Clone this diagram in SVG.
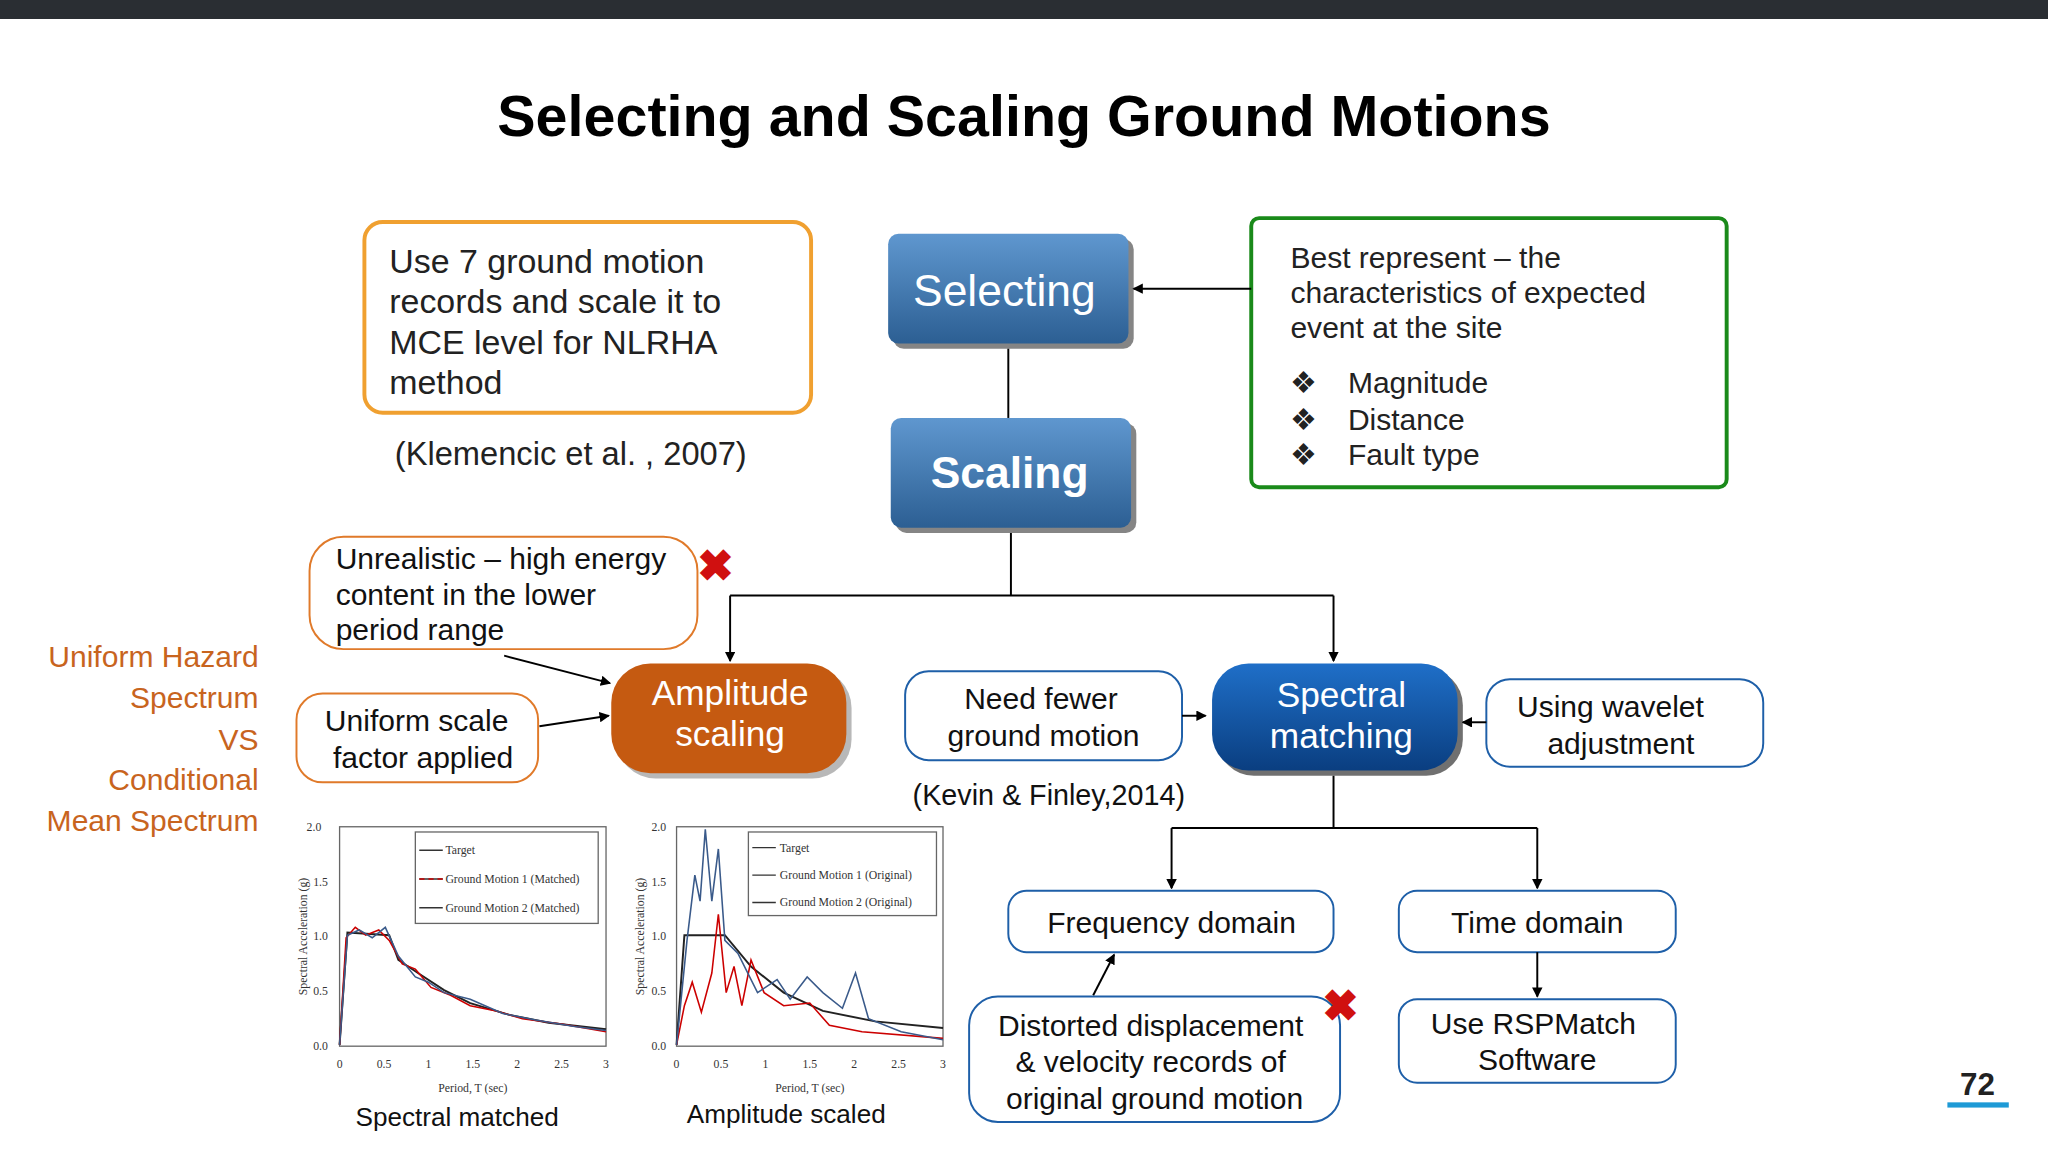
<svg xmlns="http://www.w3.org/2000/svg" width="2048" height="1152" viewBox="0 0 2048 1152">
<style>
.t{font-family:"Liberation Sans",Arial,sans-serif;}
.b{fill:#fff;stroke:#1e5fa8;stroke-width:1.5}
.o{fill:#fff;stroke:#e07a2a;stroke-width:1.5}
.c{stroke:#000;stroke-width:1.5;fill:none}
.ax{font-family:"Liberation Serif",serif;font-size:9px;fill:#333}
</style>
<defs>
<marker id="a" markerWidth="8" markerHeight="8" refX="7" refY="4" orient="auto" markerUnits="userSpaceOnUse"><path d="M0,0 L8,4 L0,8 z" fill="#000"/></marker>
<linearGradient id="gb" x1="0" y1="0" x2="0" y2="1"><stop offset="0" stop-color="#5f97cf"/><stop offset="1" stop-color="#2c5f93"/></linearGradient>
<linearGradient id="gd" x1="0" y1="0" x2="0" y2="1"><stop offset="0" stop-color="#1f6fc8"/><stop offset="1" stop-color="#0a3e80"/></linearGradient>
</defs>
<rect width="2048" height="1152" fill="#fff"/>
<rect width="2048" height="19" fill="#2a2e33"/>
<g transform="scale(1.3061)">
<text class="t" x="784" y="104" text-anchor="middle" font-size="44" font-weight="bold">Selecting and Scaling Ground Motions</text>
<g id="n_use"><rect x="279" y="170" width="342" height="146" rx="14" fill="#fff" stroke="#f0a030" stroke-width="3"/>
<text class="t" font-size="26" fill="#222"><tspan x="298" y="209">Use 7 ground motion</tspan><tspan x="298" y="240">records and scale it to</tspan><tspan x="298" y="271">MCE level for NLRHA</tspan><tspan x="298" y="302">method</tspan></text></g>
<text class="t" x="437" y="356" text-anchor="middle" font-size="25" fill="#222">(Klemencic et al. , 2007)</text>
<g id="n_sel"><rect x="684" y="183" width="184" height="84" rx="8" fill="#333" opacity="0.6"/><rect x="680" y="179" width="184" height="84" rx="8" fill="url(#gb)"/>
<text class="t" x="769" y="234" text-anchor="middle" font-size="34" fill="#fff">Selecting</text></g>
<g id="n_sca"><rect x="686" y="324" width="184" height="84" rx="8" fill="#333" opacity="0.6"/><rect x="682" y="320" width="184" height="84" rx="8" fill="url(#gb)"/>
<text class="t" x="773" y="374" text-anchor="middle" font-size="34" font-weight="bold" fill="#fff">Scaling</text></g>
<g id="n_best"><rect x="958" y="167" width="364" height="206" rx="6" fill="#fff" stroke="#1a8a1a" stroke-width="3"/>
<text class="t" font-size="23" fill="#222"><tspan x="988" y="205">Best represent – the</tspan><tspan x="988" y="232">characteristics of expected</tspan><tspan x="988" y="259">event at the site</tspan>
<tspan x="988" y="301">❖</tspan><tspan x="1032" y="301">Magnitude</tspan><tspan x="988" y="329">❖</tspan><tspan x="1032" y="329">Distance</tspan><tspan x="988" y="356">❖</tspan><tspan x="1032" y="356">Fault type</tspan></text></g>
<g id="n_unr"><rect x="237" y="411" width="297" height="86" rx="26" class="o"/>
<text class="t" font-size="23" fill="#111"><tspan x="257" y="436">Unrealistic – high energy</tspan><tspan x="257" y="463">content in the lower</tspan><tspan x="257" y="490">period range</tspan></text>
<text class="t" x="548" y="445" text-anchor="middle" font-size="34" font-weight="bold" fill="#d01010">✖</text></g>
<text class="t" font-size="23" fill="#c8641e" text-anchor="end"><tspan x="198" y="511">Uniform Hazard</tspan><tspan x="198" y="542">Spectrum</tspan><tspan x="198" y="574">VS</tspan><tspan x="198" y="605">Conditional</tspan><tspan x="198" y="636">Mean Spectrum</tspan></text>
<g id="n_uni"><rect x="227" y="531" width="185" height="68" rx="20" class="o"/>
<text class="t" font-size="23" fill="#111" text-anchor="middle"><tspan x="319" y="560">Uniform scale</tspan><tspan x="324" y="588">factor applied</tspan></text></g>
<g id="n_amp"><rect x="472" y="512" width="180" height="84" rx="30" fill="#888" opacity="0.6"/><rect x="468" y="508" width="180" height="84" rx="30" fill="#c55a11"/>
<text class="t" font-size="27" fill="#fff" text-anchor="middle"><tspan x="559" y="540">Amplitude</tspan><tspan x="559" y="571">scaling</tspan></text></g>
<g id="n_need"><rect x="693" y="514" width="212" height="68" rx="18" class="b"/>
<text class="t" font-size="23" fill="#111" text-anchor="middle"><tspan x="797" y="543">Need fewer</tspan><tspan x="799" y="571">ground motion</tspan></text></g>
<text class="t" x="803" y="616" text-anchor="middle" font-size="22" fill="#111">(Kevin &amp; Finley,2014)</text>
<g id="n_spec"><rect x="932" y="512" width="188" height="82" rx="28" fill="#333" opacity="0.7"/><rect x="928" y="508" width="188" height="82" rx="28" fill="url(#gd)"/>
<text class="t" font-size="27" fill="#fff" text-anchor="middle"><tspan x="1027" y="541">Spectral</tspan><tspan x="1027" y="573">matching</tspan></text></g>
<g id="n_wav"><rect x="1138" y="520" width="212" height="67" rx="18" class="b"/>
<text class="t" font-size="23" fill="#111" text-anchor="middle"><tspan x="1233" y="549">Using wavelet</tspan><tspan x="1241" y="577">adjustment</tspan></text></g>
<g id="n_freq"><rect x="772" y="682" width="249" height="47" rx="14" class="b"/>
<text class="t" x="897" y="714" text-anchor="middle" font-size="23" fill="#111">Frequency domain</text></g>
<g id="n_time"><rect x="1071" y="682" width="212" height="47" rx="14" class="b"/>
<text class="t" x="1177" y="714" text-anchor="middle" font-size="23" fill="#111">Time domain</text></g>
<g id="n_dist"><rect x="742" y="763" width="284" height="96" rx="22" class="b"/>
<text class="t" font-size="23" fill="#111" text-anchor="middle"><tspan x="881" y="793">Distorted displacement</tspan><tspan x="881" y="821">&amp; velocity records of</tspan><tspan x="884" y="849">original ground motion</tspan></text>
<text class="t" x="1026" y="782" text-anchor="middle" font-size="34" font-weight="bold" fill="#d01010">✖</text></g>
<g id="n_rsp"><rect x="1071" y="765" width="212" height="64" rx="14" class="b"/>
<text class="t" font-size="23" fill="#111" text-anchor="middle"><tspan x="1174" y="792">Use RSPMatch</tspan><tspan x="1177" y="819">Software</tspan></text></g>
<g id="connectors">
<path class="c" d="M958,221 H868" marker-end="url(#a)"/>
<path class="c" d="M772,267 V320"/>
<path class="c" d="M774,408 V456 M559,456 H1021"/>
<path class="c" d="M559,456 V506" marker-end="url(#a)"/>
<path class="c" d="M1021,456 V506" marker-end="url(#a)"/>
<path class="c" d="M386,502 L467,523" marker-end="url(#a)"/>
<path class="c" d="M413,556 L466,548" marker-end="url(#a)"/>
<path class="c" d="M905,548 H923" marker-end="url(#a)"/>
<path class="c" d="M1138,553 H1120" marker-end="url(#a)"/>
<path class="c" d="M1021,594 V634 M897,634 H1177"/>
<path class="c" d="M897,634 V680" marker-end="url(#a)"/>
<path class="c" d="M1177,634 V680" marker-end="url(#a)"/>
<path class="c" d="M837,762 L853,731" marker-end="url(#a)"/>
<path class="c" d="M1177,729 V763" marker-end="url(#a)"/>
</g>
<g id="chart1">
<rect x="260" y="633" width="204" height="168" fill="#fff" stroke="#666"/>
<g class="ax"><text x="246" y="636" text-anchor="end">2.0</text><text x="251" y="678" text-anchor="end">1.5</text><text x="251" y="720" text-anchor="end">1.0</text><text x="251" y="762" text-anchor="end">0.5</text><text x="251" y="804" text-anchor="end">0.0</text>
<text x="260" y="818" text-anchor="middle">0</text><text x="294" y="818" text-anchor="middle">0.5</text><text x="328" y="818" text-anchor="middle">1</text><text x="362" y="818" text-anchor="middle">1.5</text><text x="396" y="818" text-anchor="middle">2</text><text x="430" y="818" text-anchor="middle">2.5</text><text x="464" y="818" text-anchor="middle">3</text>
<text x="362" y="836" text-anchor="middle">Period, T (sec)</text><text transform="translate(235,717) rotate(-90)" text-anchor="middle">Spectral Acceleration (g)</text></g>
<rect x="318" y="637" width="140" height="70" fill="#fff" stroke="#666"/>
<g class="ax"><path d="M321,651 h18 M321,673 h18 M321,695 h18" stroke="#333"/><path d="M321,673 h18" stroke="#c00" stroke-dasharray="4 3"/><text x="341" y="654">Target</text><text x="341" y="676">Ground Motion 1 (Matched)</text><text x="341" y="698">Ground Motion 2 (Matched)</text></g>
<path d="M260,800 L266,714 L298,716 L305,735 L320,745 L340,758 L360,768 L390,777 L420,783 L464,788" fill="none" stroke="#222" stroke-width="1.5"/>
<path d="M260,800 L265,718 L272,710 L280,716 L290,712 L298,720 L308,738 L318,742 L330,756 L345,762 L360,770 L380,774 L400,780 L430,784 L464,790" fill="none" stroke="#c00" stroke-width="1.2"/>
<path d="M260,800 L266,716 L275,712 L285,718 L295,710 L305,732 L318,748 L328,752 L340,760 L360,765 L385,776 L410,781 L440,786 L464,789" fill="none" stroke="#3a5a8a" stroke-width="1.2"/>
<text class="t" x="350" y="862" text-anchor="middle" font-size="20" fill="#111">Spectral matched</text>
</g>
<g id="chart2">
<rect x="518" y="633" width="204" height="168" fill="#fff" stroke="#666"/>
<g class="ax"><text x="510" y="636" text-anchor="end">2.0</text><text x="510" y="678" text-anchor="end">1.5</text><text x="510" y="720" text-anchor="end">1.0</text><text x="510" y="762" text-anchor="end">0.5</text><text x="510" y="804" text-anchor="end">0.0</text>
<text x="518" y="818" text-anchor="middle">0</text><text x="552" y="818" text-anchor="middle">0.5</text><text x="586" y="818" text-anchor="middle">1</text><text x="620" y="818" text-anchor="middle">1.5</text><text x="654" y="818" text-anchor="middle">2</text><text x="688" y="818" text-anchor="middle">2.5</text><text x="722" y="818" text-anchor="middle">3</text>
<text x="620" y="836" text-anchor="middle">Period, T (sec)</text><text transform="translate(493,717) rotate(-90)" text-anchor="middle">Spectral Acceleration (g)</text></g>
<rect x="573" y="637" width="144" height="64" fill="#fff" stroke="#666"/>
<g class="ax"><path d="M576,649 h18 M576,670 h18 M576,691 h18" stroke="#333"/><text x="597" y="652">Target</text><text x="597" y="673">Ground Motion 1 (Original)</text><text x="597" y="694">Ground Motion 2 (Original)</text></g>
<path d="M518,800 L524,716 L555,716 L575,740 L600,760 L630,774 L670,782 L722,787" fill="none" stroke="#222" stroke-width="1.5"/>
<path d="M518,800 L524,770 L530,752 L537,775 L545,745 L550,700 L556,760 L562,740 L568,770 L575,735 L585,760 L600,770 L620,768 L635,785 L660,790 L722,795" fill="none" stroke="#c00" stroke-width="1.2"/>
<path d="M518,800 L526,720 L532,670 L536,690 L540,635 L545,690 L550,650 L555,720 L565,730 L580,760 L595,750 L605,765 L618,748 L630,760 L645,772 L655,745 L665,780 L690,790 L722,796" fill="none" stroke="#3a5a8a" stroke-width="1.2"/>
<text class="t" x="602" y="860" text-anchor="middle" font-size="20" fill="#111">Amplitude scaled</text>
</g>
<text class="t" x="1514" y="838" text-anchor="middle" font-size="24" font-weight="bold" fill="#222">72</text>
<rect x="1491" y="844" width="47" height="4" fill="#1e9ad6"/>
</g>
</svg>
